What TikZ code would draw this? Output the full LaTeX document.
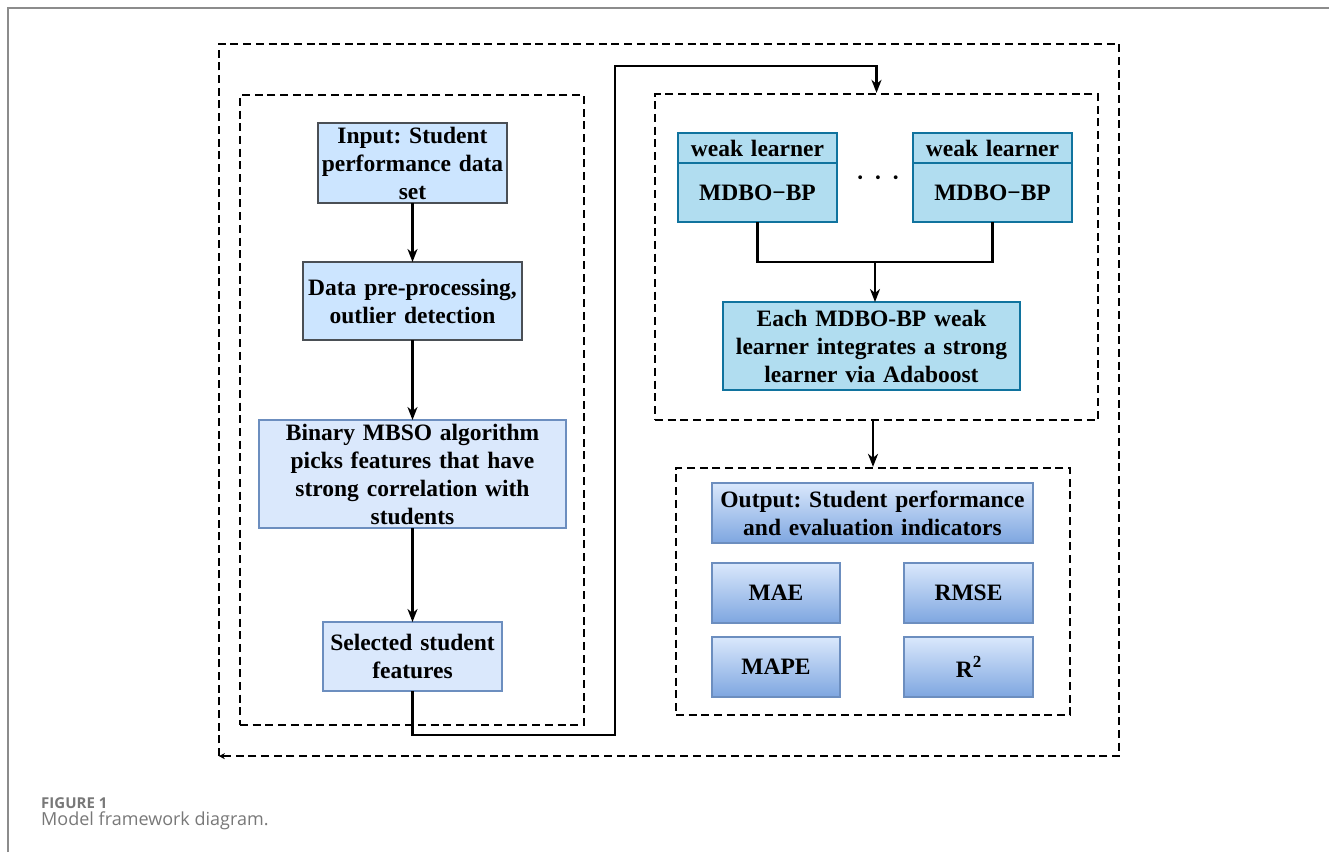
\documentclass[tikz,border=0pt]{standalone}
\usepackage{fontspec}
\setmainfont{Liberation Serif}
\newfontfamily\capfont{Open Sans}
\usepackage{tikz}
\usetikzlibrary{shapes,arrows,arrows.meta,positioning}
\definecolor{inblue}{RGB}{204,229,255}
\definecolor{boxgrey}{RGB}{74,79,85}
\definecolor{featblue}{RGB}{218,232,252}
\definecolor{featline}{RGB}{108,142,191}
\definecolor{learnblue}{RGB}{177,221,240}
\definecolor{learnline}{RGB}{16,115,158}
\definecolor{metricdark}{RGB}{126,166,224}
\definecolor{capgrey}{RGB}{120,120,120}
\definecolor{pagegrey}{RGB}{140,140,140}
\tikzstyle{block} = [rectangle, draw, line width=1.5pt, text centered,
    inner sep=0pt, outer sep=0pt, font=\fontsize{23.5}{28}\selectfont\bfseries]
\tikzstyle{inbox} = [block, draw=boxgrey, fill=inblue]
\tikzstyle{featbox} = [block, draw=featline, fill=featblue]
\tikzstyle{learnbox} = [block, draw=learnline, fill=learnblue]
\tikzstyle{metric} = [block, draw=featline, top color=featblue, bottom color=metricdark]
\tikzstyle{frame} = [rectangle, draw, dash pattern=on 8pt off 4.7pt, line width=2.3pt]
\tikzstyle{line} = [draw, line width=2.2pt, -{Stealth[length=13pt,width=10pt,inset=4pt]}]
\frenchspacing

\begin{document}
\begin{tikzpicture}[x=1pt, y=-1pt]
        \useasboundingbox (0,0) rectangle (1329,852);
        % Page edge and caption
        \draw [pagegrey, line width=2pt] (7.5,852) -- (7.5,7.5) -- (1329,7.5);
        \node [anchor=base west, inner sep=0pt, text=capgrey, font=\capfont\bfseries\fontsize{15}{17}\selectfont] (figno) at (41,808) {FIGURE 1};
        \node [anchor=base west, inner sep=0pt, text=capgrey, font=\capfont\fontsize{18}{21}\selectfont] (figtitle) at (41,825) {Model framework diagram.};
        % Frames
        \node [frame, draw=none, minimum width=898pt, minimum height=710pt] (outer) at (669,400) {};
        \node [frame, minimum width=344pt, minimum height=630pt] (selframe) at (412,410) {};
        \node [frame, minimum width=443pt, minimum height=326pt] (learnframe) at (876.5,257) {};
        \node [frame, minimum width=394pt, minimum height=247pt] (outframe) at (873,591.5) {};
        \draw [frame, -{Stealth[length=6pt,width=6pt]}] (outer.south west) |- (outer.north east) |- (outer.south west);
        % Feature selection column
        \node [inbox, text width=189pt, minimum height=80pt] (input) at (412.5,163) {Input: Student\\performance data\\set};
        \node [inbox, below of=input, node distance=138pt, text width=219pt, minimum height=78pt] (prepro) {Data pre-processing,\\outlier detection};
        \node [featbox, below of=prepro, node distance=173pt, text width=307pt, minimum height=108pt] (binary) {Binary MBSO algorithm\\picks features that have\\strong correlation with\\students};
        \node [featbox, below of=binary, node distance=182.5pt, text width=179pt, minimum height=69pt] (sel) {Selected student\\features};
        % Weak learners and ensemble
        \node [learnbox, text width=159pt, minimum height=30pt] (weakhead1) at (757.5,148) {weak learner};
        \node [learnbox, below=0pt of weakhead1, text width=159pt, minimum height=59pt] (weak1) {MDBO−BP};
        \node [learnbox, text width=159pt, minimum height=30pt] (weakhead2) at (992.5,148) {weak learner};
        \node [learnbox, below=0pt of weakhead2, text width=159pt, minimum height=59pt] (weak2) {MDBO−BP};
        \node [font=\fontsize{23.5}{28}\selectfont\bfseries] (dots) at (878,181) {·\hskip 10pt·\hskip 10pt·};
        \node [learnbox, text width=297pt, minimum height=88pt] (ensemble) at (871.5,346) {Each MDBO-BP weak\\learner integrates a strong\\learner via Adaboost};
        \coordinate (merge) at (875,262);
        % Output and metrics
        \node [metric, text width=321pt, minimum height=60pt] (output) at (872.5,513) {Output: Student performance\\and evaluation indicators};
        \node [metric, text width=128pt, minimum height=60pt] (mae) at (776,593) {MAE};
        \node [metric, text width=129pt, minimum height=60pt] (rmse) at (968.5,593) {RMSE};
        \node [metric, text width=128pt, minimum height=60pt] (mape) at (776,667) {MAPE};
        \node [metric, text width=129pt, minimum height=60pt] (rsq) at (968.5,667) {R\raisebox{0.45em}{\fontsize{17}{17}\selectfont 2}};
        % Draw edges
        \coordinate (low) at (615,735);
        \coordinate (high) at (615,66);
        \path [line] (input) -- (prepro);
        \path [line] (prepro) -- (binary);
        \path [line] (binary) -- (sel);
        \path [line] (sel.south) |- (low) -- (high) -| (learnframe.north);
        \draw [line width=2.2pt] (weak1.south) |- (merge) -| (weak2.south);
        \path [line] (merge) -- (merge |- ensemble.north);
        \path [line] (learnframe.south -| outframe.north) -- (outframe.north);
    \end{tikzpicture}
\end{document}
